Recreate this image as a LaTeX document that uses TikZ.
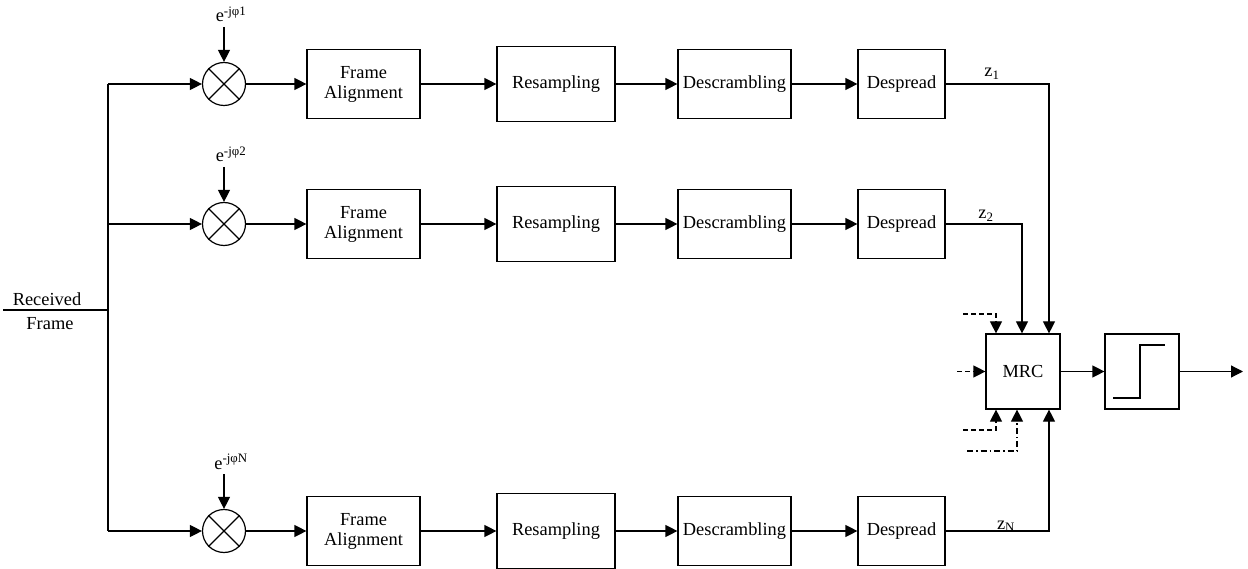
\documentclass[tikz,border=0pt]{standalone}
\usepackage{fontspec}
\setmainfont{Liberation Serif}
\usetikzlibrary{arrows.meta}
\begin{document}
\begin{tikzpicture}[x=1pt,y=-1pt,line width=1.2pt,
  >={Triangle[length=12pt,width=12pt]},
  font=\fontsize{18.4}{21}\selectfont,
  blk/.style={draw,inner sep=0pt,align=center,minimum height=69pt},
  mixer/.style={draw,circle,minimum size=43pt,inner sep=0pt},
  lbl/.style={inner sep=0pt,anchor=base},
  dsh/.style={dash pattern=on 5pt off 3pt},
  dshdot/.style={dash pattern=on 6pt off 3pt on 1.5pt off 3pt}]
\useasboundingbox (0,0) rectangle (1248,569);

% input and distribution bus
\coordinate (rf) at (3,310);
\coordinate (bus) at (108,310);
\draw (rf) -- (bus);
\node[lbl] (rtxt) at (47,306) {Received};
\node[lbl] (ftxt) at (50,330) {Frame};

% combiner and decision stage
\node[draw,minimum width=74pt,minimum height=75pt,inner sep=0pt] (mrc) at (1023,371.5) {MRC};
\node[draw,minimum width=74pt,minimum height=75pt,inner sep=0pt] (st) at (1142,371.5) {};
\draw ([shift={(-29,26.5)}]st.center) -- ([shift={(-2,26.5)}]st.center)
      -- ([shift={(-2,-26.5)}]st.center) -- ([shift={(23,-26.5)}]st.center);
\coordinate (out) at (1243,371.5);
\draw[->] (mrc.east) -- (st.west);
\draw[->] (st.east) -- (out);

% columns of the combiner inputs
\coordinate (c1) at (1049,0);
\coordinate (c2) at (1022,0);
\coordinate (c3) at (996,0);
\coordinate (c4) at (1017,0);

% branches
\foreach \r/\y/\s in {1/84/1,2/224/2,N/531/N}{
  \coordinate (b\r) at (108,\y);
  \node[mixer] (m\r) at (224,\y) {};
  \draw (m\r.45) -- (m\r.225) (m\r.135) -- (m\r.315);
  \coordinate (ph\r) at (224,\y-57);
  \node[lbl] (e\r) at (231,\y-62) {e\textsuperscript{-jφ\s}};
  \draw[->] (ph\r) -- (m\r.north);
  \node[blk,minimum width=113pt] (fa\r) at (363.5,\y) {Frame\\[-1pt]Alignment};
  \node[blk,minimum width=118pt,minimum height=75pt] (rs\r) at (556,\y) {Resampling};
  \node[blk,minimum width=113pt] (ds\r) at (734.5,\y) {Descrambling};
  \node[blk,minimum width=87pt] (dp\r) at (901.5,\y) {Despread};
  \draw[->] (b\r) -- (m\r.west);
  \draw[->] (m\r.east) -- (fa\r.west);
  \draw[->] (fa\r.east) -- (rs\r.west);
  \draw[->] (rs\r.east) -- (ds\r.west);
  \draw[->] (ds\r.east) -- (dp\r.west);
}
\draw (b1) -- (bN);

% branch outputs to the combiner
\draw[->] (dp1.east) -| (mrc.north -| c1);
\draw[->] (dp2.east) -| (mrc.north -| c2);
\draw[->] (dpN.east) -| (mrc.south -| c1);
\node[lbl] (z1) at (992,77) {z\textsubscript{1}};
\node[lbl] (z2) at (986,219) {z\textsubscript{2}};
\node[lbl] (zN) at (1006,529) {z\textsubscript{N}};

% further combiner inputs
\coordinate (d1) at (963,314);
\coordinate (d2) at (957,371.5);
\coordinate (d3) at (963,430);
\coordinate (d4) at (967,451);
\draw[->,dsh] (d1) -| (mrc.north -| c3);
\draw[->,dsh] (d2) -- (mrc.west);
\draw[->,dsh] (d3) -| (mrc.south -| c3);
\draw[->,dshdot] (d4) -| (mrc.south -| c4);
\end{tikzpicture}
\end{document}
